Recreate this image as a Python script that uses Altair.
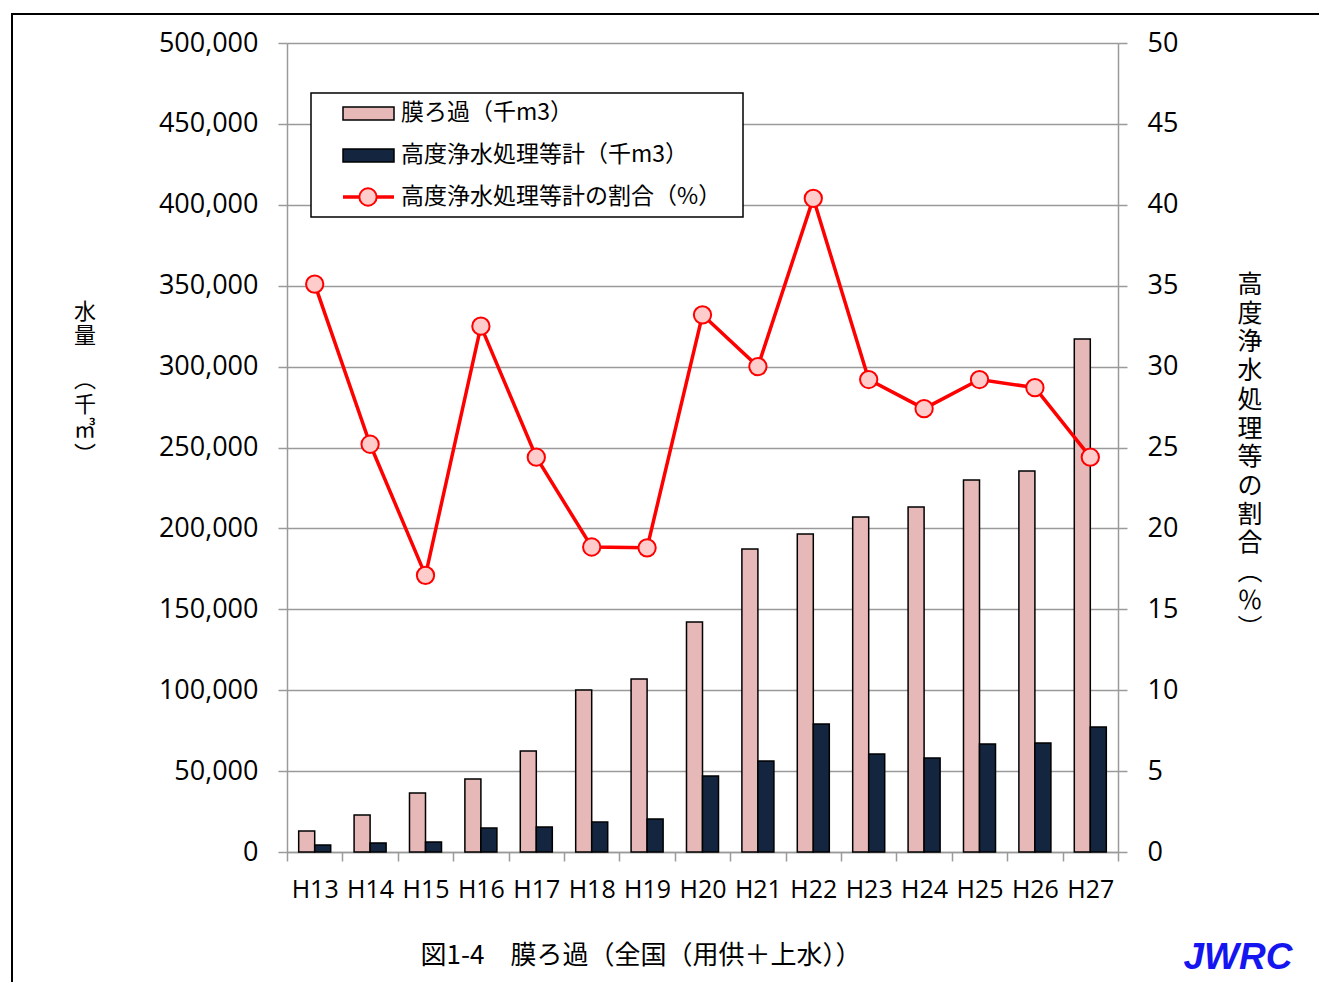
import altair as alt
import pandas as pd

# ---- data ----
years = ["H13", "H14", "H15", "H16", "H17", "H18", "H19", "H20",
         "H21", "H22", "H23", "H24", "H25", "H26", "H27"]
membrane = [13000, 22900, 36500, 45100, 62400, 100100, 106900, 142200,
            187300, 196500, 207000, 213200, 229900, 235500, 317100]
advanced = [4300, 5600, 6200, 14800, 15500, 18500, 20400, 47000,
            56200, 79100, 60600, 58100, 66700, 67400, 77300]
ratio = [35.1, 25.2, 17.1, 32.5, 24.4, 18.85, 18.8, 33.2,
         30.0, 40.4, 29.2, 27.4, 29.2, 28.7, 24.4]
series_names = ["膜ろ過（千m3）", "高度浄水処理等計（千m3）", "高度浄水処理等計の割合（%）"]
left_ticks = list(range(0, 500001, 50000))
right_ticks = list(range(0, 51, 5))
left_title_a = ["水", "量"]
left_title_b = ["︵", "千", "㎥", "︶"]
right_title = ["高", "度", "浄", "水", "処", "理", "等", "の", "割", "合", "︵", "％", "︶"]
caption = "図1-4　膜ろ過（全国（用供＋上水））"
logo = "JWRC"

PINK = "#E6B9B8"
NAVY = "#13253F"
RED = "#FF0000"
GRAY = "#9a9a9a"
JP = "Noto Sans CJK JP"
LAT = "Open Sans"

bars_df = pd.DataFrame({
    "year": years * 2,
    "series": [series_names[0]] * len(years) + [series_names[1]] * len(years),
    "value": membrane + advanced,
})
line_df = pd.DataFrame({"year": years, "ratio": ratio})
one = pd.DataFrame({"a": [0]})

x_enc = alt.X("year:N", sort=years,
              scale=alt.Scale(paddingInner=0, paddingOuter=0),
              axis=alt.Axis(title=None, labelAngle=0, tickBand="extent",
                            labelFont=LAT, labelFontSize=25, labelColor="black",
                            labelPadding=16, tickSize=9, grid=False))

bars = alt.Chart(bars_df).mark_bar(stroke="black", strokeWidth=1.5).encode(
    x=x_enc,
    xOffset=alt.XOffset("series:N", sort=series_names[:2],
                        scale=alt.Scale(paddingInner=0, paddingOuter=0.73)),
    y=alt.Y("value:Q",
            scale=alt.Scale(domain=[0, 500000], nice=False),
            axis=alt.Axis(title=None, orient="left", values=left_ticks,
                          labelExpr="format(datum.value, ',')",
                          grid=True, gridColor=GRAY, gridWidth=1.5,
                          labelFont=LAT, labelFontSize=27, labelColor="black",
                          labelPadding=20, tickSize=9)),
    color=alt.Color("series:N", scale=alt.Scale(domain=series_names[:2], range=[PINK, NAVY]),
                    legend=None),
)

line = alt.Chart(line_df).mark_line(
    color=RED, strokeWidth=3.5,
    point=alt.OverlayMarkDef(filled=True, fill="#FFCCCC", stroke=RED, strokeWidth=2, size=300, opacity=1),
).encode(
    x=alt.X("year:N", sort=years),
    y=alt.Y("ratio:Q",
            scale=alt.Scale(domain=[0, 50], nice=False),
            axis=alt.Axis(title=None, orient="right", values=right_ticks,
                          grid=False, labelFont=LAT, labelFontSize=27, labelColor="black",
                          labelPadding=20, tickSize=9)),
)

# ---- decorations: frame, legend, titles ----
frame = alt.Chart(one).mark_rect(filled=False, stroke="black", strokeWidth=2).encode(
    x=alt.value(-275), x2=alt.value(1200), y=alt.value(-29), y2=alt.value(1100))

leg_box = alt.Chart(one).mark_rect(fill="white", stroke="black", strokeWidth=1.5).encode(
    x=alt.value(24), x2=alt.value(456), y=alt.value(50), y2=alt.value(174))
leg_r1 = alt.Chart(one).mark_rect(fill=PINK, stroke="black", strokeWidth=1.5).encode(
    x=alt.value(56), x2=alt.value(107), y=alt.value(64), y2=alt.value(77))
leg_r2 = alt.Chart(one).mark_rect(fill=NAVY, stroke="black", strokeWidth=1.5).encode(
    x=alt.value(56), x2=alt.value(107), y=alt.value(106), y2=alt.value(119))
leg_l = alt.Chart(one).mark_rule(color=RED, strokeWidth=3.5).encode(
    x=alt.value(56), x2=alt.value(107), y=alt.value(154))
leg_p = alt.Chart(one).mark_point(filled=True, fill="#FFCCCC", stroke=RED, strokeWidth=2,
                                  size=300, opacity=1, shape="circle").encode(
    x=alt.value(81), y=alt.value(154))


def label(txt, x, y, **kw):
    return alt.Chart(one).mark_text(text=txt, **kw).encode(x=alt.value(x), y=alt.value(y))


leg_t = [label(series_names[i], 114, yy, font=JP, fontSize=23, align="left",
               baseline="middle", color="black")
         for i, yy in enumerate([70, 112, 154])]

ltitle_a = label(left_title_a, -202, 269, font=JP, fontSize=22, lineHeight=24,
                 align="center", baseline="middle", color="black")
ltitle_b = label(left_title_b, -202, 337, font=JP, fontSize=22, lineHeight=25,
                 align="center", baseline="middle", color="black")
rtitle = label(right_title, 963, 242, font=JP, fontSize=25, lineHeight=28.7,
               align="center", baseline="middle", color="black")
cap = label(caption, 354, 913, font=JP, fontSize=26, align="center",
            baseline="middle", color="black")
jw = label(logo, 951, 915, font="Liberation Sans", fontSize=37, fontWeight="bold",
           fontStyle="italic", align="center", baseline="middle", color="#1515F0")

chart = alt.layer(
    frame, bars, line, leg_box, leg_r1, leg_r2, leg_l, leg_p, *leg_t,
    ltitle_a, ltitle_b, rtitle, cap, jw,
).resolve_scale(y="independent").properties(
    width=831, height=809,
    autosize=alt.AutoSizeParams(type="none"),
    padding={"left": 279, "top": 35, "right": 201, "bottom": 130},
).configure_view(stroke=None).configure_axis(
    domainColor=GRAY, domainWidth=1.5, tickColor=GRAY, tickWidth=1.5,
)

chart.save("out.html", embed_options={"renderer": "svg", "actions": False})
